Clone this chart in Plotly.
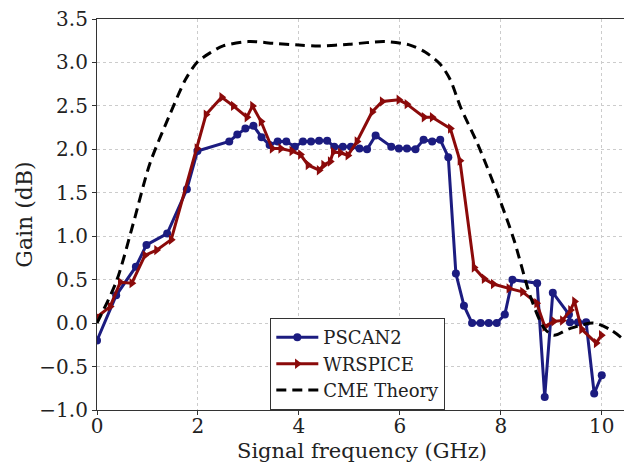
import plotly.graph_objects as go

# PSCAN2 simulation (GHz, dB)
pscan_x = [0, 0.38, 0.77, 0.98, 1.39, 1.78, 1.99, 2.62, 2.78, 2.94, 3.10, 3.26, 3.42, 3.58,
           3.75, 3.92, 4.08, 4.24, 4.40, 4.56, 4.70, 4.87, 5.03, 5.20, 5.35, 5.52, 5.83, 5.98,
           6.14, 6.31, 6.47, 6.64, 6.80, 6.96, 7.11, 7.27, 7.43, 7.60, 7.76, 7.92, 8.08, 8.23,
           8.72, 8.87, 9.03, 9.35, 9.37, 9.53, 9.69, 9.85, 10.0]
pscan_y = [-0.20, 0.32, 0.65, 0.90, 1.03, 1.54, 1.98, 2.09, 2.17, 2.24, 2.27, 2.14, 2.05, 2.09,
           2.09, 2.03, 2.09, 2.09, 2.10, 2.10, 2.03, 2.03, 2.03, 2.01, 2.00, 2.16, 2.03, 2.01,
           2.01, 2.00, 2.11, 2.09, 2.11, 1.91, 0.57, 0.20, 0.00, 0.00, 0.00, 0.00, 0.10, 0.50,
           0.46, -0.85, 0.35, 0.10, 0.01, 0.01, 0.01, -0.81, -0.60]

# WRSPICE simulation
wr_x = [0, 0.26, 0.46, 0.69, 0.95, 1.18, 1.47, 1.98, 2.16, 2.47, 2.70, 2.97, 3.08, 3.25,
        3.47, 3.64, 3.86, 4.03, 4.18, 4.40, 4.49, 4.62, 4.68, 4.82, 4.97, 5.15, 5.45, 5.65,
        5.98, 6.14, 6.48, 6.64, 7.00, 7.19, 7.47, 7.67, 7.85, 8.16, 8.43, 8.71, 8.87, 9.05,
        9.22, 9.38, 9.46, 9.60, 9.89, 9.99]
wr_y = [0.07, 0.19, 0.47, 0.46, 0.78, 0.84, 0.96, 2.01, 2.40, 2.60, 2.50, 2.37, 2.50, 2.32,
        2.01, 2.01, 1.98, 1.94, 1.82, 1.76, 1.82, 1.86, 1.97, 1.96, 1.93, 2.09, 2.43, 2.55,
        2.57, 2.52, 2.37, 2.37, 2.24, 1.87, 0.64, 0.51, 0.45, 0.40, 0.36, 0.23, -0.04, 0.02,
        0.03, 0.15, 0.25, -0.07, -0.23, -0.14]

# CME theory curve
cme_x = [0, 0.39, 0.72, 1.05, 1.45, 1.75, 1.98, 2.24, 2.5, 3.0, 3.5, 4.0, 4.4, 5.0, 5.7, 6.2,
         6.5, 6.8, 7.0, 7.2, 7.55, 7.96, 8.26, 8.59, 8.86, 9.05, 9.38, 9.84, 10.18, 10.5]
cme_y = [0.0, 0.49, 1.15, 1.84, 2.41, 2.80, 3.00, 3.11, 3.19, 3.24, 3.22, 3.20, 3.19, 3.21, 3.24,
         3.20, 3.12, 2.98, 2.80, 2.49, 2.05, 1.45, 0.96, 0.30, -0.06, -0.14, -0.06, 0.00, -0.08,
         -0.22]

y_ticks = [-1.0, -0.5, 0.0, 0.5, 1.0, 1.5, 2.0, 2.5, 3.0, 3.5]
x_ticks = [0, 2, 4, 6, 8, 10]
x_title = "Signal frequency (GHz)"
y_title = "Gain (dB)"

font_family = "DejaVu Serif"
blue = "#1c1c80"
red = "#8b0a0a"

fig = go.Figure()
fig.add_trace(go.Scatter(
    x=pscan_x, y=pscan_y, mode="lines+markers", name="PSCAN2",
    line=dict(color=blue, width=3),
    marker=dict(symbol="circle", size=8, color=blue),
))
fig.add_trace(go.Scatter(
    x=wr_x, y=wr_y, mode="lines+markers", name="WRSPICE",
    line=dict(color=red, width=3),
    marker=dict(symbol="triangle-right", size=9, color=red),
))
fig.add_trace(go.Scatter(
    x=cme_x, y=cme_y, mode="lines", name="CME Theory",
    line=dict(color="black", width=3, dash="10px,6px", shape="spline", smoothing=0.8),
))

axis_common = dict(
    showline=True, linecolor="#333333", linewidth=1.2, mirror=True,
    ticks="outside", ticklen=4, tickcolor="#333333",
    showgrid=True, gridcolor="#cccccc", griddash="dot", gridwidth=1,
    zeroline=False, automargin=False, ticklabeloverflow="allow",
    tickfont=dict(family=font_family, size=20, color="#222222"),
)

# page body has an 8px default margin: figure sized/placed so the plot area
# lands at x 97..627, y 19..410 in the 632x463 window
fig.update_layout(
    width=624, height=455,
    margin=dict(l=89, r=5, t=11, b=53),
    paper_bgcolor="white", plot_bgcolor="white",
    font=dict(family=font_family, color="#222222"),
    xaxis=dict(range=[0, 10.5], tickvals=x_ticks, ticklabelstandoff=-6, **axis_common),
    yaxis=dict(range=[-1.0, 3.5], tickvals=y_ticks, tickformat=".1f",
               title=dict(text=y_title, font=dict(family=font_family, size=22), standoff=0),
               **axis_common),
    legend=dict(x=0.327, y=0.235, xanchor="left", yanchor="top",
                bgcolor="white", bordercolor="#333333", borderwidth=1,
                font=dict(family=font_family, size=18),
                itemwidth=42, tracegroupgap=0),
    showlegend=True,
)

fig.add_annotation(
    text=x_title, xref="paper", yref="paper", x=0.5, y=-0.104,
    xanchor="center", yanchor="middle", showarrow=False,
    font=dict(family=font_family, size=21, color="#222222"),
)

fig.write_html("out.html")
